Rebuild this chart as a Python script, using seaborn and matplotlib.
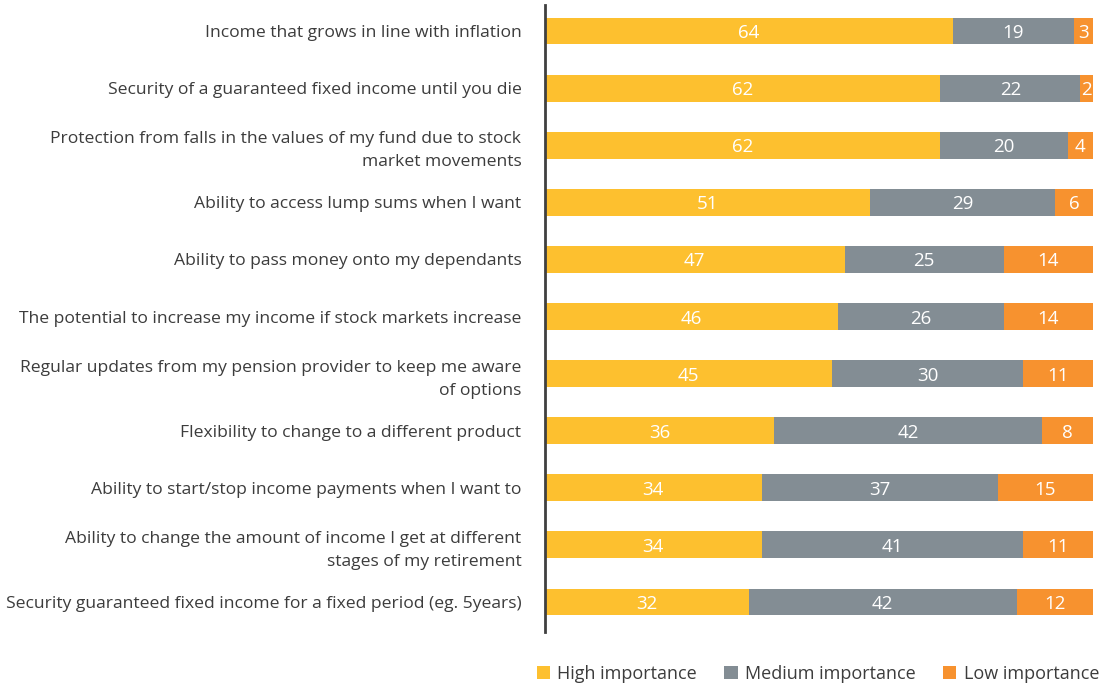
import matplotlib
matplotlib.use("Agg")
import matplotlib.pyplot as plt
import seaborn as sns
import pandas as pd
from matplotlib.patches import Patch

# Chart data
items = [
    "Income that grows in line with inflation",
    "Security of a guaranteed fixed income until you die",
    "Protection from falls in the values of my fund due to stock\nmarket movements",
    "Ability to access lump sums when I want",
    "Ability to pass money onto my dependants",
    "The potential to increase my income if stock markets increase",
    "Regular updates from my pension provider to keep me aware\nof options",
    "Flexibility to change to a different product",
    "Ability to start/stop income payments when I want to",
    "Ability to change the amount of income I get at different\nstages of my retirement",
    "Security guaranteed fixed income for a fixed period (eg. 5years)",
]
high = [64, 62, 62, 51, 47, 46, 45, 36, 34, 34, 32]
medium = [19, 22, 20, 29, 25, 26, 30, 42, 37, 41, 42]
low = [3, 2, 4, 6, 14, 14, 11, 8, 15, 11, 12]
series_names = ["High importance", "Medium importance", "Low importance"]
colors = ["#FDC02F", "#838D94", "#F7922F"]

df = pd.DataFrame({"item": items, "high": high, "medium": medium, "low": low})
df["hm"] = df["high"] + df["medium"]
df["total"] = df["hm"] + df["low"]

sns.set_style("white")
plt.rcParams["font.family"] = ["Open Sans", "DejaVu Sans"]
text_col = "#3C3C3C"

fig = plt.figure(figsize=(11.01, 6.88), dpi=100)
ax = fig.add_axes([0.495, 0.0814, 0.4996, 0.9113])

# stacked bars drawn as overlapping cumulative bars
for col, c in zip(["total", "hm", "high"], colors[::-1]):
    sns.barplot(data=df, x=col, y="item", orient="h", color=c,
                width=0.47, saturation=1, ax=ax, linewidth=0)

# value labels in the middle of each segment
for i, row in df.iterrows():
    starts = [0, row["high"], row["hm"]]
    for s, v in zip(starts, [row["high"], row["medium"], row["low"]]):
        ax.text(s + v / 2, i, str(v), ha="center", va="center_baseline",
                color="white", fontsize=13.5)

ax.set_xlim(0, 86.3)
ax.set_ylim(10.525, -0.455)
ax.set_xlabel("")
ax.set_ylabel("")
ax.set_xticks([])
ax.tick_params(axis="y", length=0, pad=17, labelsize=12.6, labelcolor=text_col)
for lab in ax.get_yticklabels():
    lab.set_linespacing(1.6)
for s in ["top", "right", "bottom"]:
    ax.spines[s].set_visible(False)
ax.spines["left"].set_color("#404040")
ax.spines["left"].set_linewidth(2)

handles = [Patch(facecolor=c, edgecolor="none", label=n)
           for c, n in zip(colors, series_names)]
fig.legend(handles=handles, loc="lower right", bbox_to_anchor=(1.013, -0.016),
           ncol=3, frameon=False, fontsize=13, handlelength=0.75,
           handleheight=0.75, handletextpad=0.4, columnspacing=1.5,
           labelcolor=text_col)

fig.savefig("out.png", dpi=100)
